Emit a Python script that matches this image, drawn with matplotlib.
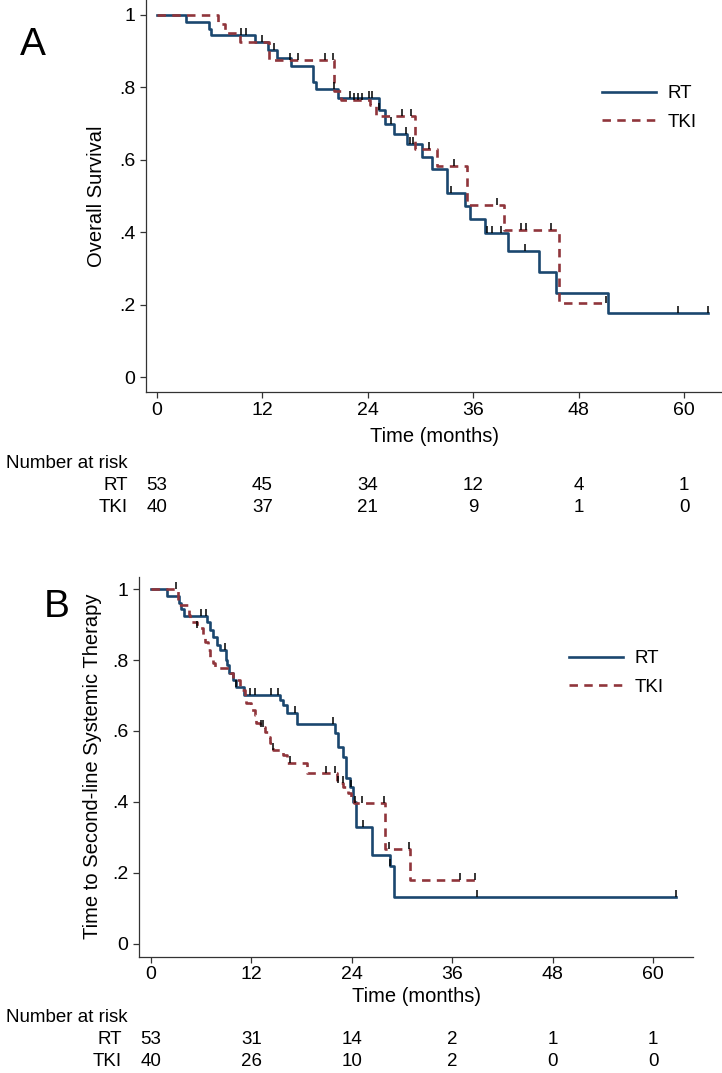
import matplotlib
matplotlib.use("Agg")
import numpy as np
import matplotlib.pyplot as plt
from matplotlib.path import Path
from matplotlib.transforms import blended_transform_factory

plt.rcParams["font.family"] = ["Liberation Sans", "DejaVu Sans"]

# ---- data ----
month_ticks = [0, 12, 24, 36, 48, 60]
surv_ticks = [0, 0.2, 0.4, 0.6, 0.8, 1.0]
surv_labels = ["0", ".2", ".4", ".6", ".8", "1"]

# panel A: overall survival
a_rt_t = [0, 3.3, 5.9, 6.2, 11.2, 12.6, 13.7, 15.3, 17.7, 18.1, 20.6, 25.3, 25.9, 27.0,
          28.5, 30.2, 31.3, 33.0, 35.1, 35.6, 37.3, 39.9, 43.5, 45.4, 51.3]
a_rt_s = [1.0, 0.979, 0.961, 0.945, 0.925, 0.902, 0.881, 0.860, 0.816, 0.795, 0.770, 0.738,
          0.698, 0.672, 0.643, 0.609, 0.575, 0.508, 0.472, 0.436, 0.399, 0.349, 0.292, 0.234, 0.177]
a_rt_end = 62.7
a_rt_cens = [9.6, 10.1, 11.9, 13.3, 20.2, 22.0, 24.1, 24.5, 25.3, 26.6, 28.3, 28.8, 29.1,
             33.5, 37.6, 38.1, 39.1, 41.9, 59.3, 62.7]

a_tki_t = [0, 6.9, 7.7, 9.5, 12.8, 20.2, 20.9, 24.2, 24.9, 29.4, 31.9, 35.3, 39.5, 45.8]
a_tki_s = [1.0, 0.975, 0.950, 0.924, 0.876, 0.790, 0.765, 0.752, 0.722, 0.630, 0.582,
           0.477, 0.407, 0.205]
a_tki_end = 51.1
a_tki_cens = [15.1, 16.0, 19.1, 20.0, 22.4, 22.9, 23.3, 27.9, 28.9, 31.0, 33.8, 38.7,
              41.4, 42.0, 44.8, 51.1]

a_risk_rt = [53, 45, 34, 12, 4, 1]
a_risk_tki = [40, 37, 21, 9, 1, 0]

# panel B: time to second-line systemic therapy
b_rt_t = [0, 1.95, 3.3, 3.6, 4.0, 6.65, 7.05, 7.45, 7.85, 8.24, 8.96, 9.1, 9.36, 9.76, 10.2,
          11.1, 15.4, 15.8, 16.2, 17.4, 22.0, 22.3, 22.9, 23.3, 23.8, 24.1, 24.2, 24.5,
          26.4, 28.6, 29.0]
b_rt_s = [1.0, 0.981, 0.962, 0.943, 0.925, 0.908, 0.885, 0.864, 0.842, 0.828, 0.800, 0.786,
          0.763, 0.744, 0.725, 0.701, 0.687, 0.673, 0.650, 0.620, 0.594, 0.556, 0.528, 0.467,
          0.443, 0.425, 0.401, 0.330, 0.251, 0.220, 0.133]
b_rt_end = 62.8
b_rt_cens = [6.0, 6.6, 8.85, 10.2, 11.8, 12.4, 14.4, 15.2, 17.2, 21.7, 23.9, 25.3, 28.6,
             39.0, 62.8]

b_tki_t = [0, 3.2, 4.5, 4.7, 5.5, 6.2, 6.45, 6.85, 7.05, 7.45, 7.65, 9.44, 9.8, 10.6, 11.2,
           11.4, 12.0, 12.4, 12.6, 13.0, 13.6, 14.0, 14.2, 14.6, 15.8, 16.2, 18.6, 22.2,
           23.0, 23.6, 23.9, 24.3, 27.96, 30.9]
b_tki_s = [1.0, 0.955, 0.927, 0.908, 0.890, 0.870, 0.852, 0.828, 0.806, 0.792, 0.777, 0.763,
           0.744, 0.715, 0.697, 0.678, 0.659, 0.645, 0.622, 0.612, 0.598, 0.584, 0.565, 0.546,
           0.532, 0.509, 0.481, 0.453, 0.443, 0.424, 0.410, 0.398, 0.267, 0.180]
b_tki_end = 38.7
b_tki_cens = [3.0, 5.5, 13.2, 13.4, 14.6, 16.6, 20.9, 22.0, 22.4, 22.9, 24.4, 25.2, 27.8,
              28.4, 30.8, 36.9, 38.7]

b_risk_rt = [53, 31, 14, 2, 1, 1]
b_risk_tki = [40, 26, 10, 2, 0, 0]

# ---- styling ----
W, H = 722, 1073
RT_COLOR = "#1a476f"
TKI_COLOR = "#90353b"
FS = 13.5
FS_TITLE = 14.5
tick_mark = Path([(0, 0), (0, 1)])


def fx(px):
    return px / W


def fy(py):
    return 1 - py / H


def draw_km(ax, t, s, end, cens, color, label, dashed=False):
    xs = list(t) + [end]
    ys = list(s) + [s[-1]]
    kw = dict(dashes=(3.2, 2.4)) if dashed else {}
    ax.step(xs, ys, where="post", color=color, lw=1.9, label=label, zorder=3, **kw)
    idx = np.searchsorted(t, cens, side="right") - 1
    ax.plot(cens, np.array(s)[idx], ls="none", marker=tick_mark, ms=10, mew=1.1,
            color="black", zorder=4)


def setup_axes(ax, xlim, ylim, pad_x):
    ax.set_xlim(*xlim)
    ax.set_ylim(*ylim)
    for side in ["top", "right"]:
        ax.spines[side].set_visible(False)
    for side in ["left", "bottom"]:
        ax.spines[side].set_color("#333333")
        ax.spines[side].set_linewidth(0.9)
    ax.set_xticks(month_ticks)
    ax.set_yticks(surv_ticks)
    ax.set_yticklabels(surv_labels)
    ax.tick_params(length=4.5, width=0.9, color="#333333", labelsize=FS + 0.5, pad=3)
    ax.tick_params(axis="x", pad=pad_x)


def risk_table(fig, ax, y_title, y_rt, y_tki, x_lab, rt, tki):
    trans = blended_transform_factory(ax.transData, fig.transFigure)
    fig.text(fx(6), fy(y_title), "Number at risk", fontsize=FS, va="center", ha="left")
    fig.text(fx(x_lab), fy(y_rt), "RT", fontsize=FS, va="center", ha="right")
    fig.text(fx(x_lab), fy(y_tki), "TKI", fontsize=FS, va="center", ha="right")
    for m, n1, n2 in zip(month_ticks, rt, tki):
        ax.text(m, fy(y_rt), str(n1), transform=trans, fontsize=FS, ha="center", va="center")
        ax.text(m, fy(y_tki), str(n2), transform=trans, fontsize=FS, ha="center", va="center")


def legend(ax, x, y):
    ax.legend(loc="upper left", bbox_to_anchor=(fx(x), fy(y)), bbox_transform=fig.transFigure,
              frameon=False, fontsize=FS, handlelength=2.9, handletextpad=0.6,
              labelspacing=0.62, borderpad=0, borderaxespad=0)


fig = plt.figure(figsize=(W / 100, H / 100), dpi=100)

# panel A
axA = fig.add_axes([fx(146), fy(392), fx(722) - fx(146), fy(0) - fy(392)])
setup_axes(axA, (-1.25, 64.3), (-0.040, 1.041), 3)
draw_km(axA, a_rt_t, a_rt_s, a_rt_end, a_rt_cens, RT_COLOR, "RT")
draw_km(axA, a_tki_t, a_tki_s, a_tki_end, a_tki_cens, TKI_COLOR, "TKI", dashed=True)
legend(axA, 602, 85)
fig.text(fx(97), fy(196), "Overall Survival", rotation=90, fontsize=FS_TITLE,
         ha="center", va="center")
fig.text(fx(434), fy(436), "Time (months)", fontsize=FS_TITLE, ha="center", va="center")
fig.text(fx(33), fy(45), "A", fontsize=28, ha="center", va="center")
risk_table(fig, axA, 463, 485, 507, 128, a_risk_rt, a_risk_tki)

# panel B
axB = fig.add_axes([fx(139), fy(957), fx(693) - fx(139), fy(577) - fy(957)])
setup_axes(axB, (-1.43, 64.78), (-0.037, 1.034), 2)
draw_km(axB, b_rt_t, b_rt_s, b_rt_end, b_rt_cens, RT_COLOR, "RT")
draw_km(axB, b_tki_t, b_tki_s, b_tki_end, b_tki_cens, TKI_COLOR, "TKI", dashed=True)
legend(axB, 569, 650)
fig.text(fx(93), fy(766), "Time to Second-line Systemic Therapy", rotation=90,
         fontsize=FS_TITLE, ha="center", va="center")
fig.text(fx(416), fy(996), "Time (months)", fontsize=FS_TITLE, ha="center", va="center")
fig.text(fx(57), fy(607), "B", fontsize=28, ha="center", va="center")
risk_table(fig, axB, 1018, 1040, 1062, 122, b_risk_rt, b_risk_tki)

fig.savefig("out.png", dpi=100)
